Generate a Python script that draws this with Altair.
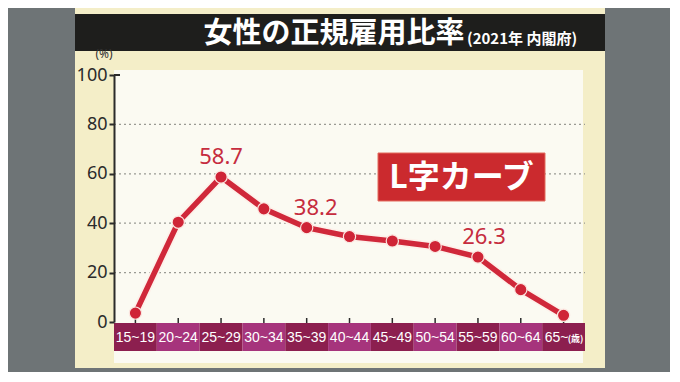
import altair as alt
import pandas as pd

ages = ["15~19", "20~24", "25~29", "30~34", "35~39", "40~44",
        "45~49", "50~54", "55~59", "60~64", "65~"]
age_unit = "(歳)"
rates = [3.6, 40.4, 58.7, 45.8, 38.2, 34.6, 32.8, 30.6, 26.3, 13.1, 2.7]
grid_values = [20, 40, 60, 80]
y_ticks = [0, 20, 40, 60, 80, 100]
title_main = "女性の正規雇用比率"
title_sub = "(2021年 内閣府)"
unit_label = "(%)"
callout = "L字カーブ"

df = pd.DataFrame({"age": ages, "rate": rates, "idx": list(range(len(ages)))})
df["x0"] = df["idx"] - 0.5
df["x1"] = df["idx"] + 0.5
df["parity"] = df["idx"] % 2
df["lab"] = df["rate"].map(lambda v: f"{v:.1f}")
df["last"] = df["idx"] == len(ages) - 1

one = pd.DataFrame({"a": [0]})
grid_df = pd.DataFrame({"g": grid_values})

W, H = 471, 247
xs = alt.Scale(domain=[-0.5, 10.5], nice=False, zero=False)
ys = alt.Scale(domain=[0, 100], nice=False)

X = alt.X("idx:Q", scale=xs, axis=None)
Y = alt.Y("rate:Q", scale=ys,
          axis=alt.Axis(values=y_ticks, title=None, grid=False, tickSize=5,
                        tickWidth=2, tickColor="#2b2b2b", domainColor="#2b2b2b",
                        domainWidth=2, labelFontSize=18, labelColor="#2b2b2b",
                        labelFont="Noto Sans", labelPadding=2, zindex=1))

panel = alt.Chart(one).mark_rect(color="#f4eec8").encode(
    x=alt.value(-39), x2=alt.value(491), y=alt.value(-67), y2=alt.value(293))
inner = alt.Chart(one).mark_rect(color="#fbfaf2").encode(
    x=alt.value(0), x2=alt.value(469), y=alt.value(-5), y2=alt.value(288))
bar = alt.Chart(one).mark_rect(color="#1e1e1c").encode(
    x=alt.value(-39), x2=alt.value(491), y=alt.value(-61), y2=alt.value(-24))
t_main = alt.Chart(one).mark_text(text=title_main, font="Noto Sans CJK JP",
                                  fontWeight="bold", fontSize=29, color="white",
                                  align="center", baseline="middle").encode(
    x=alt.value(220), y=alt.value(-41))
t_sub = alt.Chart(one).mark_text(text=title_sub, font="Noto Sans CJK JP",
                                 fontWeight="bold", fontSize=15, color="white",
                                 align="left", baseline="middle").encode(
    x=alt.value(353), y=alt.value(-36))
t_unit = alt.Chart(one).mark_text(text=unit_label, font="Noto Sans", fontSize=12,
                                  color="#333333", align="center",
                                  baseline="middle").encode(
    x=alt.value(-10), y=alt.value(-21))

grid = alt.Chart(grid_df).mark_rule(color="#9a9a94", strokeDash=[2, 3],
                                    strokeWidth=1.2).encode(
    y=alt.Y("g:Q", scale=ys), x=alt.value(0), x2=alt.value(W))
top_tick = alt.Chart(one).mark_rule(color="#2b2b2b", strokeWidth=2).encode(
    x=alt.value(0), x2=alt.value(6), y=alt.value(0))

band = alt.Chart(df).mark_rect().encode(
    x=alt.X("x0:Q", scale=xs, axis=None), x2="x1:Q",
    y=alt.value(248), y2=alt.value(276),
    color=alt.Color("parity:N", legend=None,
                    scale=alt.Scale(domain=[0, 1], range=["#8c1f4f", "#a6347c"])))
band_text = alt.Chart(df).transform_filter("!datum.last").mark_text(
    color="white", fontSize=14, font="Liberation Sans",
    baseline="middle").encode(x=X, y=alt.value(263), text="age:N")
band_last = alt.Chart(df).transform_filter("datum.last").mark_text(
    color="white", fontSize=14, font="Liberation Sans", dx=-7,
    baseline="middle").encode(x=X, y=alt.value(263), text="age:N")
band_unit = alt.Chart(df).transform_filter("datum.last").mark_text(
    text=age_unit, color="white", fontSize=9, font="Noto Sans CJK JP",
    fontWeight="bold", dx=12, baseline="middle").encode(x=X, y=alt.value(264))
cat_ticks = alt.Chart(df).mark_rule(color="#2b2b2b", strokeWidth=1.5).encode(
    x=X, y=alt.value(243), y2=alt.value(248))

halo = alt.Chart(df).mark_line(color="#fdf1ea", strokeWidth=9).encode(x=X, y=Y)
line = alt.Chart(df).mark_line(color="#d0283a", strokeWidth=5.5).encode(x=X, y=Y)
pts = alt.Chart(df).mark_point(filled=True, size=150, color="#cf2436",
                               stroke="#fbe6e0", strokeWidth=1.2, opacity=1).encode(x=X, y=Y)

def value_label(age, dx):
    return alt.Chart(df).transform_filter(alt.datum.age == age).mark_text(
        color="#c62c3e", fontSize=22, font="Noto Sans", dy=-20, dx=dx,
        baseline="middle").encode(x=X, y=Y, text="lab:N")

lab1 = value_label("25~29", 0)
lab2 = value_label("35~39", 9)
lab3 = value_label("55~59", 6)

box = alt.Chart(one).mark_rect(color="#cb2a2e", stroke="#e36a5c", strokeWidth=1).encode(
    x=alt.value(264), x2=alt.value(431), y=alt.value(78), y2=alt.value(126))
box_text = alt.Chart(one).mark_text(text=callout, font="Noto Sans CJK JP",
                                    fontWeight="bold", fontSize=32, color="white",
                                    align="center", baseline="middle").encode(
    x=alt.value(347.5), y=alt.value(103))

chart = alt.layer(
    panel, inner, bar, t_main, t_sub, t_unit, grid, top_tick,
    band, band_text, band_last, band_unit, cat_ticks, halo, line, pts,
    lab1, lab2, lab3, box, box_text
).properties(
    width=W, height=H,
    autosize=alt.AutoSizeParams(type="none"),
    padding={"left": 106, "top": 67, "right": 85, "bottom": 50},
    background="#6e7476",
).configure_view(stroke=None)

chart.save("out.html", embed_options={"renderer": "svg", "actions": False})
